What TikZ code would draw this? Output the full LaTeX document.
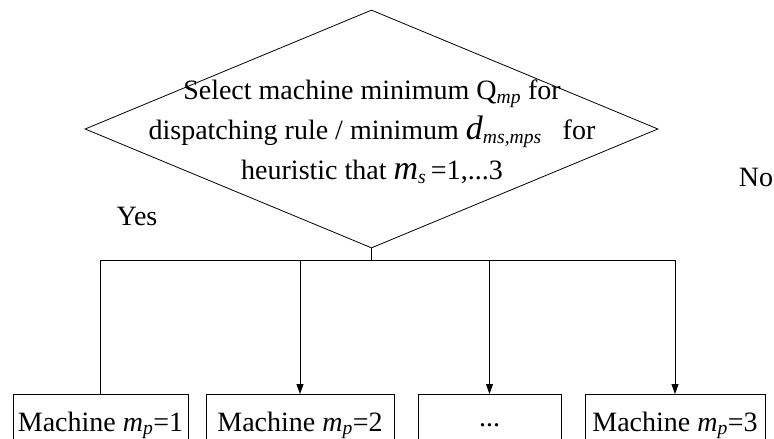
\documentclass[tikz,border=0pt]{standalone}
\usepackage{fontspec}
\setmainfont{Liberation Serif}
\usetikzlibrary{arrows.meta}
\usetikzlibrary{shapes.geometric}

\tikzset{mbox/.style={draw, minimum height=62pt, inner sep=0pt, anchor=north}}
\newcommand{\bigit}[1]{{\fontsize{34}{40}\selectfont\textit{#1}}}

\begin{document}
\begin{tikzpicture}[x=1pt, y=-1pt, line width=.8pt, font=\fontsize{28}{40}\selectfont]
\useasboundingbox (0,0) rectangle (774,439);
\clip (0,0) rectangle (774,439);

\node[diamond, draw, minimum width=573pt, minimum height=238pt, inner sep=0pt] (sel) at (371.5,129) {};
\node[align=center, inner sep=0pt] (seltext) at (372,132) {Select machine minimum Q\textsubscript{\textit{mp}} for\\
dispatching rule / minimum \bigit{d}\textsubscript{\textit{ms,mps}}\ \ \ for\\
heuristic that \bigit{m}\textsubscript{\textit{s}}\,=1,...3};

\node (yes) at (137,216) {Yes};
\node (no) at (756,177) {No};

\node[mbox, minimum width=175pt] (m1) at (100.5,394) {Machine \textit{m}\textsubscript{\textit{p}}=1};
\node[mbox, minimum width=188pt] (m2) at (300,394) {Machine \textit{m}\textsubscript{\textit{p}}=2};
\node[mbox, minimum width=143pt] (m3) at (489.5,394) {...};
\node[mbox, minimum width=180pt] (m4) at (675,394) {Machine \textit{m}\textsubscript{\textit{p}}=3};

\path (sel.south) ++(0,12) coordinate (bus);
\draw (sel.south) -- (bus);
\draw (m1.north) |- (m4.north |- bus);
\foreach \n in {m2,m3,m4} \draw[-{Triangle[width=7pt,length=10pt]}] (\n.north |- bus) -- (\n.north);

\end{tikzpicture}
\end{document}
